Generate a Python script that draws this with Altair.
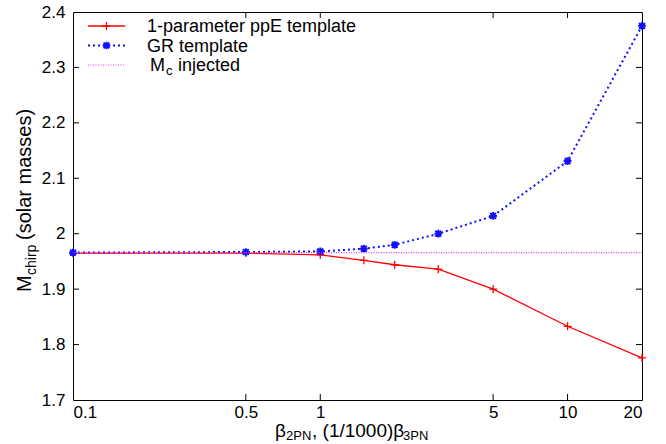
import altair as alt
import pandas as pd

# ---- data ----
beta = [0.1, 0.5, 1, 1.5, 2, 3, 5, 10, 20]
mc_ppe = [1.965, 1.965, 1.962, 1.952, 1.944, 1.936, 1.900, 1.833, 1.776]
mc_gr = [1.966, 1.967, 1.968, 1.973, 1.980, 2.000, 2.032, 2.131, 2.375]
mc_injected = [1.966]
x_ticks = [0.1, 0.5, 1, 5, 10, 20]
y_ticks = [1.7, 1.8, 1.9, 2.0, 2.1, 2.2, 2.3, 2.4]
legend_text = ["1-parameter ppE template", "GR template"]

FONT = "Liberation Sans"
W, H = 569, 388
PL, PT = 73, 12
RED, BLUE, MAG = "#ff0000", "#1010ff", "#f040f0"
PLUS = "M-1,0H1M0,-1V1"
STAR = "M-1,0H1M0,-1V1M-0.75,-0.75L0.75,0.75M-0.75,0.75L0.75,-0.75"

xs = alt.Scale(type="log", domain=[0.1, 20], nice=False)
ys = alt.Scale(domain=[1.7, 2.4], nice=False, zero=False)
x_axis = alt.Axis(values=x_ticks, format="~g", tickSize=0, domain=False, grid=False,
                  labelFontSize=17, labelPadding=4, title=None, labelFont=FONT,
                  labelColor="black", labelFontWeight="normal")
y_axis = alt.Axis(values=y_ticks, format="~g", tickSize=0, domain=False, grid=False,
                  labelFontSize=17, labelPadding=8, title=None, labelFont=FONT,
                  labelColor="black")

df = pd.DataFrame({"beta": beta, "ppe": mc_ppe, "gr": mc_gr})
X = alt.X("beta:Q", scale=xs, axis=x_axis)

ppe_line = alt.Chart(df).mark_line(color=RED, strokeWidth=1.3).encode(
    x=X, y=alt.Y("ppe:Q", scale=ys, axis=y_axis))
ppe_pts = alt.Chart(df).mark_point(shape=PLUS, size=64, color=RED, strokeWidth=1.3,
                                   filled=False, opacity=1).encode(
    x=X, y=alt.Y("ppe:Q", scale=ys, axis=y_axis))
gr_line = alt.Chart(df).mark_line(color=BLUE, strokeWidth=2, strokeDash=[2, 3]).encode(
    x=X, y=alt.Y("gr:Q", scale=ys, axis=y_axis))
gr_pts = alt.Chart(df).mark_point(shape=STAR, size=60, color=BLUE, strokeWidth=2,
                                  filled=False, opacity=1).encode(
    x=X, y=alt.Y("gr:Q", scale=ys, axis=y_axis))
inj = alt.Chart(pd.DataFrame({"mc": mc_injected})).mark_rule(
    color=MAG, strokeWidth=1.2, strokeDash=[1, 1.5]).encode(
    y=alt.Y("mc:Q", scale=ys, axis=y_axis))

# inward ticks (gnuplot style, mirrored)
xt = pd.DataFrame({"v": x_ticks[1:-1]})
yt = pd.DataFrame({"v": y_ticks[1:-1]})
XT = alt.X("v:Q", scale=xs, axis=x_axis)
YT = alt.Y("v:Q", scale=ys, axis=y_axis)
tick_style = dict(color="black", strokeWidth=1)
xt_bot = alt.Chart(xt).mark_rule(**tick_style).encode(x=XT, y=alt.value(H), y2=alt.value(H - 6))
xt_top = alt.Chart(xt).mark_rule(**tick_style).encode(x=XT, y=alt.value(0), y2=alt.value(6))
yt_left = alt.Chart(yt).mark_rule(**tick_style).encode(y=YT, x=alt.value(0), x2=alt.value(6))
yt_right = alt.Chart(yt).mark_rule(**tick_style).encode(y=YT, x=alt.value(W - 6), x2=alt.value(W))


def txt(s, x, y, size, angle=0, baseline="alphabetic", align="left"):
    mk = dict(font=FONT, fontSize=size, align=align, baseline=baseline, color="black")
    if angle:
        mk["angle"] = angle
    return alt.Chart(pd.DataFrame({"t": [s]})).mark_text(**mk).encode(
        x=alt.value(x - PL), y=alt.value(y - PT), text="t:N")


# x title: beta_2PN, (1/1000) beta_3PN
xb = 437
x_title = [
    txt("β", 275, xb, 19),
    txt("2PN", 286, xb + 3, 13),
    txt(", (1/1000)β", 312, xb, 19),
    txt("3PN", 403, xb + 3, 13),
]
# y title: M_chirp (solar masses), rotated
yb = 31
y_title = [
    txt("M", yb, 292, 20, angle=270),
    txt("chirp", yb + 5, 275, 14, angle=270),
    txt("(solar masses)", yb, 240, 20, angle=270),
]

# legend
ly = [26, 45.5, 65]
lx0, lx1, lxm, ltx = 88, 125, 106.5, 147
def lrule(color, y, sw, dash=None):
    mk = dict(color=color, strokeWidth=sw)
    if dash:
        mk["strokeDash"] = dash
    return alt.Chart(pd.DataFrame({"a": [0]})).mark_rule(**mk).encode(
        x=alt.value(lx0 - PL), x2=alt.value(lx1 - PL), y=alt.value(y - PT))
def lpt(shape, color, y, size, sw):
    return alt.Chart(pd.DataFrame({"a": [0]})).mark_point(
        shape=shape, size=size, color=color, strokeWidth=sw, filled=False, opacity=1).encode(
        x=alt.value(lxm - PL), y=alt.value(y - PT))

legend = [
    lrule(RED, ly[0], 1.3), lpt(PLUS, RED, ly[0], 64, 1.3),
    txt(legend_text[0], ltx, ly[0] + 6, 18),
    lrule(BLUE, ly[1], 2, [2, 3]), lpt(STAR, BLUE, ly[1], 60, 2),
    txt(legend_text[1], ltx, ly[1] + 6, 18),
    lrule(MAG, ly[2], 1.2, [1, 1.5]),
    txt("M", 150, ly[2] + 6, 18),
    txt("c", 166, ly[2] + 10, 13),
    txt("injected", 178, ly[2] + 6, 18),
]

chart = alt.layer(
    ppe_line, ppe_pts, gr_line, gr_pts, inj,
    xt_bot, xt_top, yt_left, yt_right,
    *x_title, *y_title, *legend,
).properties(
    width=W, height=H,
    autosize=alt.AutoSizeParams(type="none"),
    padding={"left": PL, "top": PT, "right": 666 - PL - W, "bottom": 444 - PT - H},
    background="white",
).configure_view(stroke="black", strokeWidth=1)

chart.save("out.html", embed_options={"renderer": "svg", "actions": False})
